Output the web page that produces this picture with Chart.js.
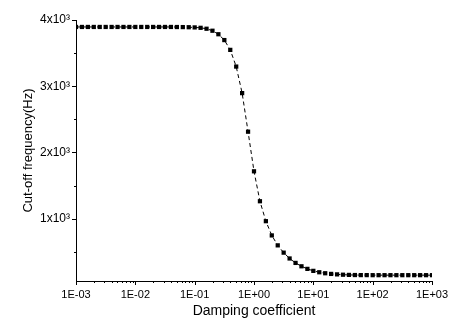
<!DOCTYPE html>
<html>
<head>
<meta charset="utf-8">
<script src="https://cdn.jsdelivr.net/npm/chart.js@4/dist/chart.umd.min.js"></script>
<style>
  html, body { margin: 0; padding: 0; background: #fff; }
  #wrap { width: 459px; height: 326px; position: relative; }
</style>
</head>
<body>
<div id="wrap"><canvas id="cutoffChart"></canvas></div>
<script>
// Damping coefficient (log steps of 0.1 decade)
const damping = [
  1.000e-3, 1.259e-3, 1.585e-3, 1.995e-3, 2.512e-3, 3.162e-3, 3.981e-3, 5.012e-3, 6.310e-3, 7.943e-3,
  1.000e-2, 1.259e-2, 1.585e-2, 1.995e-2, 2.512e-2, 3.162e-2, 3.981e-2, 5.012e-2, 6.310e-2, 7.943e-2,
  1.000e-1, 1.259e-1, 1.585e-1, 1.995e-1, 2.512e-1, 3.162e-1, 3.981e-1, 5.012e-1, 6.310e-1, 7.943e-1,
  1.000e0, 1.259e0, 1.585e0, 1.995e0, 2.512e0, 3.162e0, 3.981e0, 5.012e0, 6.310e0, 7.943e0,
  1.000e1, 1.259e1, 1.585e1, 1.995e1, 2.512e1, 3.162e1, 3.981e1, 5.012e1, 6.310e1, 7.943e1,
  1.000e2, 1.259e2, 1.585e2, 1.995e2, 2.512e2, 3.162e2, 3.981e2, 5.012e2, 6.310e2, 7.943e2,
  1.000e3
];
// Cut-off frequency (Hz)
const cutoff = [
  3895, 3895, 3895, 3895, 3895, 3895, 3895, 3895, 3895, 3895,
  3895, 3895, 3895, 3895, 3895, 3895, 3895, 3894, 3893, 3891,
  3888, 3882, 3868, 3838, 3785, 3697, 3549, 3297, 2896, 2314,
  1716, 1264, 963, 748, 598, 488, 400, 333, 282, 243,
  213, 192, 177, 167, 160, 155, 152, 150, 149, 149,
  148, 148, 148, 148, 148, 148, 148, 148, 148, 148,
  148
];

// Axis ticks
const xMajor = [1e-3, 1e-2, 1e-1, 1e0, 1e1, 1e2, 1e3];
const xLabels = ["1E-03", "1E-02", "1E-01", "1E+00", "1E+01", "1E+02", "1E+03"];
const yMajor = [1000, 2000, 3000, 4000];
const yLabels = ["1x10\u00b3", "2x10\u00b3", "3x10\u00b3", "4x10\u00b3"];
const yMinor = [500, 1500, 2500, 3500];

const FONT = "'Liberation Sans', Arial, sans-serif";

// draw outward ticks (major + minor), Origin style
const tickPlugin = {
  id: "originTicks",
  afterDraw(chart) {
    const ctx = chart.ctx;
    const xs = chart.scales.x, ys = chart.scales.y;
    const bottom = chart.chartArea.bottom, left = chart.chartArea.left;
    ctx.save();
    ctx.strokeStyle = "#000";
    ctx.lineWidth = 1;
    ctx.beginPath();
    xMajor.forEach((v, i) => {
      const px = Math.round(xs.getPixelForValue(v)) + 0.5;
      ctx.moveTo(px, bottom); ctx.lineTo(px, bottom + 4);
      if (i < xMajor.length - 1) {
        for (let m = 2; m <= 9; m++) {
          const mx = Math.round(xs.getPixelForValue(v * m)) + 0.5;
          ctx.moveTo(mx, bottom); ctx.lineTo(mx, bottom + 2);
        }
      }
    });
    yMajor.forEach(v => {
      const py = Math.round(ys.getPixelForValue(v)) + 0.5;
      ctx.moveTo(left, py); ctx.lineTo(left - 4, py);
    });
    yMinor.forEach(v => {
      const py = Math.round(ys.getPixelForValue(v)) + 0.5;
      ctx.moveTo(left, py); ctx.lineTo(left - 2, py);
    });
    ctx.stroke();
    ctx.restore();
  }
};

new Chart(document.getElementById("cutoffChart"), {
  type: "line",
  data: {
    labels: damping,
    datasets: [{
      data: damping.map((d, i) => ({ x: d, y: cutoff[i] })),
      borderColor: "#000",
      borderWidth: 1,
      borderDash: [4, 3],
      tension: 0,
      pointStyle: "rect",
      pointRadius: 3,
      pointBorderWidth: 0,
      pointBackgroundColor: "#000",
      fill: false
    }]
  },
  options: {
    responsive: true,
    maintainAspectRatio: false,
    animation: false,
    events: [],
    layout: { padding: { left: 0, top: 20, right: 27, bottom: 0 } },
    plugins: { legend: { display: false }, tooltip: { enabled: false } },
    scales: {
      x: {
        type: "logarithmic",
        min: 1e-3, max: 1e3,
        afterBuildTicks: s => { s.ticks = xMajor.map(v => ({ value: v })); },
        afterFit: s => { s.height = 45; },
        grid: { display: false, drawTicks: false },
        border: { display: true, color: "#000", width: 1 },
        ticks: {
          color: "#000", padding: 7, maxRotation: 0, autoSkip: false,
          font: { family: FONT, size: 11 },
          callback: (v) => { const i = xMajor.indexOf(v); return i >= 0 ? xLabels[i] : ""; }
        },
        title: {
          display: true, text: "Damping coefficient", color: "#000",
          font: { family: FONT, size: 14 }, padding: { top: 0, bottom: 6 }
        }
      },
      y: {
        min: 60, max: 4000,
        afterBuildTicks: s => { s.ticks = yMajor.map(v => ({ value: v })); },
        afterFit: s => { s.width = 76; },
        grid: { display: false, drawTicks: false },
        border: { display: true, color: "#000", width: 1 },
        ticks: {
          color: "#000", padding: 6, autoSkip: false,
          font: { family: FONT, size: 12 },
          callback: (v) => { const i = yMajor.indexOf(v); return i >= 0 ? yLabels[i] : ""; }
        },
        title: {
          display: true, text: "Cut-off frequency(Hz)", color: "#000",
          font: { family: FONT, size: 13 }, padding: { top: 21, bottom: 0 }
        }
      }
    }
  },
  plugins: [tickPlugin]
});
</script>
</body>
</html>
